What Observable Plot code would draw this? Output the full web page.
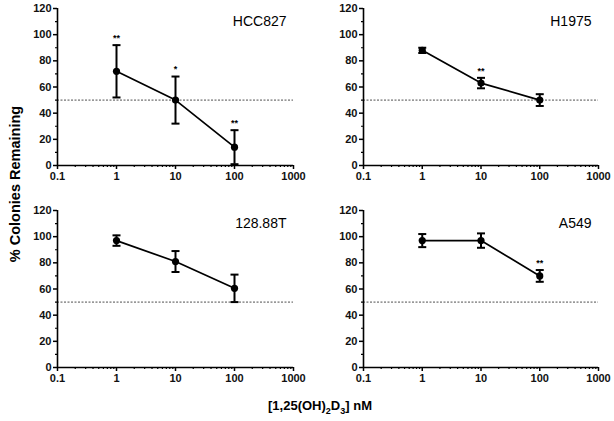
<!DOCTYPE html>
<html><head><meta charset="utf-8">
<script src="https://cdn.jsdelivr.net/npm/d3@7"></script>
<script src="https://cdn.jsdelivr.net/npm/@observablehq/plot@0.6"></script>
<style>
body{margin:0;background:#fff;}
#wrap{position:relative;width:614px;height:421px;font-family:"Liberation Sans",Arial,sans-serif;color:#000;}
.panel{position:absolute;}
#ylab{position:absolute;left:15px;top:184px;transform:translate(-50%,-50%) rotate(-90deg);font-weight:bold;font-size:14.5px;white-space:nowrap;}
#xlab{position:absolute;left:320px;top:407px;transform:translate(-50%,-50%);font-weight:bold;font-size:13px;white-space:nowrap;}
#xlab sub{font-size:9px;}
</style>
</head><body>
<div id="wrap">
  <div id="p0" class="panel" style="left:0;top:0"></div>
  <div id="p1" class="panel" style="left:306px;top:0"></div>
  <div id="p2" class="panel" style="left:0;top:202px"></div>
  <div id="p3" class="panel" style="left:306px;top:202px"></div>
  <div id="ylab">% Colonies Remaining</div>
  <div id="xlab">[1,25(OH)<sub>2</sub>D<sub>3</sub>] nM</div>
</div>
<script>
const concentrations = [1, 10, 100];
const cellLines = ["HCC827", "H1975", "128.88T", "A549"];
const meanHCC827 = [72, 50, 14];
const errHCC827 = [20, 18, 13];
const starsHCC827 = ["**", "*", "**"];
const meanH1975 = [88, 63, 50];
const errH1975 = [2, 4, 4.5];
const starsH1975 = ["", "**", ""];
const mean12888T = [97, 81, 60.5];
const err12888T = [4, 8, 10.5];
const stars12888T = ["", "", ""];
const meanA549 = [97, 97, 70];
const errA549 = [5, 5.5, 4.5];
const starsA549 = ["", "", "**"];
const xTicks = [0.1, 1, 10, 100, 1000];
const yTicks = [0, 20, 40, 60, 80, 100, 120];
const threshold = 50;

const series = [
  [meanHCC827, errHCC827, starsHCC827],
  [meanH1975, errH1975, starsH1975],
  [mean12888T, err12888T, stars12888T],
  [meanA549, errA549, starsA549]
];

const xMinor = [];
for (const d of [0.1, 1, 10, 100]) for (let k = 2; k <= 9; k++) xMinor.push(+(d * k).toPrecision(3));
const yMinor = [10, 30, 50, 70, 90, 110];

const capSymbol = {draw(ctx, size) { const w = Math.sqrt(size / Math.PI); ctx.moveTo(-w, 0); ctx.lineTo(w, 0); }};

cellLines.forEach((name, i) => {
  const [m, e, s] = series[i];
  const data = concentrations.map((c, j) => ({c, y: m[j], lo: Math.max(0, m[j] - e[j]), hi: m[j] + e[j], star: s[j]}));
  const chart = Plot.plot({
    width: i % 2 === 0 ? 307 : 306,
    height: 192,
    marginLeft: 57,
    marginRight: 14,
    marginTop: 8,
    marginBottom: 27,
    style: {fontFamily: '"Liberation Sans", Arial, sans-serif', fontSize: "11px", fontWeight: "bold", overflow: "visible", background: "white"},
    x: {type: "log", domain: [0.1, 1000], label: null},
    y: {domain: [0, 120], label: null},
    marks: [
      Plot.ruleY([threshold], {stroke: "#222", strokeWidth: 0.8, strokeDasharray: "2,1.5"}),
      Plot.axisX(xMinor, {tickSize: 2, tickFormat: () => "", strokeWidth: 1.2, label: null}),
      Plot.axisX(xTicks, {tickSize: 4, tickPadding: 3, strokeWidth: 1.5, tickFormat: d => String(d), label: null, fill: "#111"}),
      Plot.axisY(yMinor, {tickSize: 2, tickFormat: () => "", strokeWidth: 1.2, label: null}),
      Plot.axisY(yTicks, {tickSize: 4, tickPadding: 2, strokeWidth: 1.5, label: null, fill: "#111"}),
      Plot.ruleY([0], {strokeWidth: 1.6}),
      Plot.ruleX([0.1], {strokeWidth: 1.6}),
      Plot.line(data, {x: "c", y: "y", stroke: "#000", strokeWidth: 1.7}),
      Plot.ruleX(data, {x: "c", y1: "lo", y2: "hi", stroke: "#000", strokeWidth: 2}),
      Plot.dot(data, {x: "c", y: "hi", symbol: capSymbol, r: 4, stroke: "#000", strokeWidth: 2, fill: "none"}),
      Plot.dot(data, {x: "c", y: "lo", symbol: capSymbol, r: 4, stroke: "#000", strokeWidth: 2, fill: "none"}),
      Plot.dot(data, {x: "c", y: "y", r: 3.6, fill: "#000", stroke: "none"}),
      Plot.text(data.filter(d => d.star), {x: "c", y: "hi", text: "star", dy: -7, fontSize: 9, fontWeight: "bold"}),
      Plot.text([name], {frameAnchor: "top-right", dx: -7, dy: 8, lineAnchor: "top", fontSize: 14, fontWeight: "normal"})
    ]
  });
  document.getElementById("p" + i).appendChild(chart);
});
</script>
</body></html>
